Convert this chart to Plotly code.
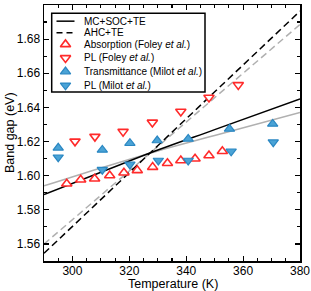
import plotly.graph_objects as go

# Theory curves
t_theory = [290, 310, 330, 350, 380]
mc_soc_te = [1.589, 1.602, 1.615, 1.627, 1.645]
mc_soc_te_gray = [1.594, 1.6045, 1.6145, 1.6235, 1.637]
ahc_t = [290, 380]
ahc_te = [1.5545, 1.6964]
ahc_te_gray = [1.5599, 1.6886]

# Experiments
abs_foley_t = [298.0, 302.9, 307.8, 313.1, 318.1, 322.8, 328.2, 333.4, 338.1, 343.1, 348.0, 352.7]
abs_foley_e = [1.5953, 1.5976, 1.5982, 1.6001, 1.6017, 1.6031, 1.6050, 1.6073, 1.6089, 1.6099, 1.6118, 1.6143]
pl_foley_t = [300.9, 307.9, 317.8, 328.1, 338.1, 348.0, 358.3]
pl_foley_e = [1.6201, 1.6229, 1.6258, 1.6312, 1.6376, 1.6458, 1.6532]
tr_milot_t = [295.0, 310.5, 320.2, 329.8, 340.7, 355.2, 370.4]
tr_milot_e = [1.6163, 1.6151, 1.6190, 1.6206, 1.6215, 1.6274, 1.6303]
pl_milot_t = [295.0, 310.5, 320.2, 330.2, 340.7, 355.8, 370.6]
pl_milot_e = [1.6108, 1.6035, 1.6066, 1.6089, 1.6089, 1.6143, 1.6196]

legend_labels = ["MC+SOC+TE", "AHC+TE", "Absorption (Foley <i>et al.</i>)", "PL (Foley <i>et al.</i>)",
                 "Transmittance (Milot <i>et al.</i>)", "PL (Milot <i>et al.</i>)"]

RED = "#ff2a2a"
BLUE_FILL = "#4aa3d6"
BLUE_LINE = "#2a87c2"
GRAY = "#b0b0b0"

# plot area in pixels
L, R, T, B = 44, 300, 4.5, 261
W, H = 311, 291

red_open_up = dict(symbol="triangle-up", size=9, color="white", line=dict(color=RED, width=1.6))
red_open_dn = dict(symbol="triangle-down", size=9, color="white", line=dict(color=RED, width=1.6))
blue_up = dict(symbol="triangle-up", size=9, color=BLUE_FILL, line=dict(color=BLUE_LINE, width=1.2))
blue_dn = dict(symbol="triangle-down", size=9, color=BLUE_FILL, line=dict(color=BLUE_LINE, width=1.2))

fig = go.Figure()
fig.add_trace(go.Scatter(x=t_theory, y=mc_soc_te_gray, mode="lines", line=dict(color=GRAY, width=1.5, shape="spline"), showlegend=False))
fig.add_trace(go.Scatter(x=ahc_t, y=ahc_te_gray, mode="lines", line=dict(color=GRAY, width=1.5, dash="7px,4px"), showlegend=False))
fig.add_trace(go.Scatter(x=t_theory, y=mc_soc_te, mode="lines", line=dict(color="black", width=1.5, shape="spline"), showlegend=False))
fig.add_trace(go.Scatter(x=ahc_t, y=ahc_te, mode="lines", line=dict(color="black", width=1.5, dash="7px,4px"), showlegend=False))
fig.add_trace(go.Scatter(x=abs_foley_t, y=abs_foley_e, mode="markers", marker=red_open_up, showlegend=False))
fig.add_trace(go.Scatter(x=pl_foley_t, y=pl_foley_e, mode="markers", marker=red_open_dn, showlegend=False))
fig.add_trace(go.Scatter(x=tr_milot_t, y=tr_milot_e, mode="markers", marker=blue_up, showlegend=False))
fig.add_trace(go.Scatter(x=pl_milot_t, y=pl_milot_e, mode="markers", marker=blue_dn, showlegend=False))

# ---- manual legend on a pixel-space overlay axis ----
rows_y = [20.7, 32.3, 44.0, 57.5, 71.2, 85.0]
sym_x0, sym_x1, sym_xc, text_x = 56.5, 74.5, 65.5, 81.5
legend_markers = [red_open_up, red_open_dn, blue_up, blue_dn]
for i, m in enumerate(legend_markers):
    fig.add_trace(go.Scatter(x=[sym_xc], y=[rows_y[i + 2]], mode="markers", marker=m,
                             xaxis="x2", yaxis="y2", showlegend=False, hoverinfo="skip"))

shapes = [
    dict(type="rect", xref="x2", yref="y2", x0=51.7, x1=205, y0=12.7, y1=91.7,
         line=dict(color="black", width=1.5), fillcolor="white", layer="below"),
    dict(type="line", xref="x2", yref="y2", x0=sym_x0, x1=sym_x1, y0=rows_y[0], y1=rows_y[0],
         line=dict(color="black", width=1.5), layer="above"),
    dict(type="line", xref="x2", yref="y2", x0=sym_x0, x1=sym_x1, y0=rows_y[1], y1=rows_y[1],
         line=dict(color="black", width=1.5, dash="6px,4px"), layer="above"),
]
annotations = [
    dict(xref="x2", yref="y2", x=text_x, y=rows_y[i], text=lab, showarrow=False,
         xanchor="left", yanchor="middle", font=dict(size=10, color="black"))
    for i, lab in enumerate(legend_labels)
]
annotations += [
    dict(xref="paper", yref="paper", x=(173 - L) / (R - L), y=(B - 284) / (B - T), text="Temperature (K)",
         showarrow=False, xanchor="center", yanchor="middle", font=dict(size=12.5, color="black")),
    dict(xref="paper", yref="paper", x=(10 - L) / (R - L), y=0.5, text="Band gap (eV)", textangle=-90,
         showarrow=False, xanchor="center", yanchor="middle", font=dict(size=12.5, color="black")),
]

axis_common = dict(showline=True, linecolor="black", linewidth=1.5, mirror="ticks", ticks="inside",
                   ticklen=5, tickwidth=1.2, tickcolor="black", showgrid=False, zeroline=False,
                   tickfont=dict(size=12, color="black"))
fig.update_xaxes(range=[290, 380], dtick=20, tick0=300, ticklabelstandoff=-2,
                 minor=dict(ticks="inside", dtick=5, ticklen=3, tickwidth=1.2, tickcolor="black"),
                 **axis_common)
fig.update_yaxes(range=[1.55, 1.70], dtick=0.02, tick0=1.56, tickformat=".2f",
                 minor=dict(ticks="inside", dtick=0.01, ticklen=3, tickwidth=1.2, tickcolor="black"),
                 **axis_common)

fig.update_layout(
    width=W, height=H,
    margin=dict(l=L, r=W - R, t=T, b=H - B, autoexpand=False),
    paper_bgcolor="white", plot_bgcolor="rgba(0,0,0,0)",
    font=dict(family="Liberation Sans, Arial, sans-serif", size=10, color="black"),
    showlegend=False,
    xaxis2=dict(overlaying="x", anchor="y2", range=[L, R], visible=False, fixedrange=True),
    yaxis2=dict(overlaying="y", anchor="x2", range=[B, T], visible=False, fixedrange=True),
    shapes=shapes,
    annotations=annotations,
)
fig.write_html("out.html", config={"displayModeBar": False, "staticPlot": True},
               post_script="document.body.style.margin='0';document.body.style.overflow='hidden';")
